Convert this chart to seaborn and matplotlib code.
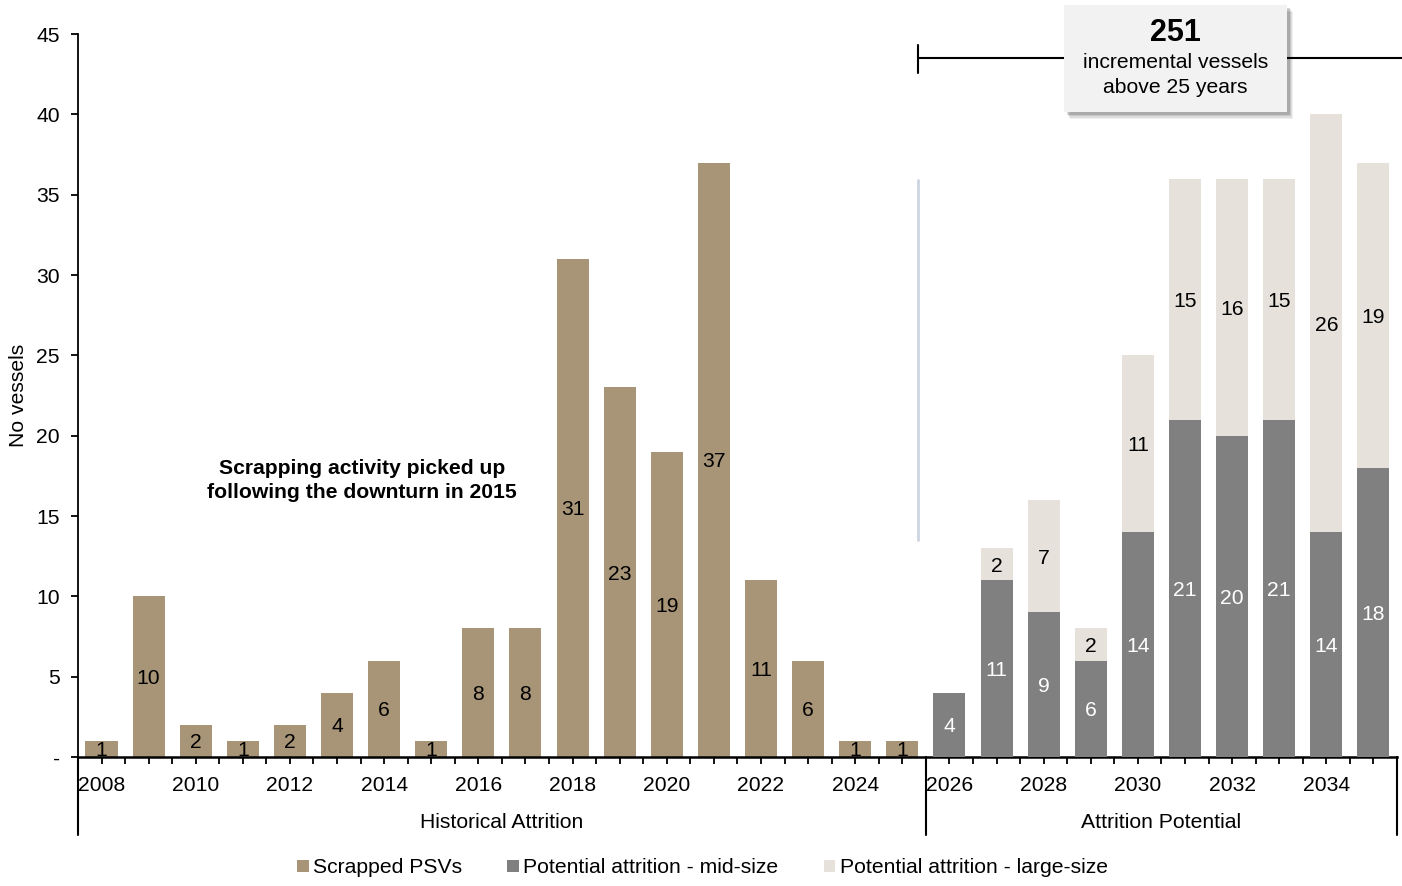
import numpy as np
import pandas as pd
import matplotlib
matplotlib.use("Agg")
import matplotlib.pyplot as plt
from matplotlib.patches import Rectangle, Patch
import matplotlib.transforms as mtransforms
import seaborn as sns

# ---- data ----
hist_years = list(range(2008, 2026))
scrapped = [1, 10, 2, 1, 2, 4, 6, 1, 8, 8, 31, 23, 19, 37, 11, 6, 1, 1]

future_years = list(range(2026, 2036))
mid_size = [4, 11, 9, 6, 14, 21, 20, 21, 14, 18]
large_size = [0, 2, 7, 2, 11, 15, 16, 15, 26, 19]

y_ticks = [0, 5, 10, 15, 20, 25, 30, 35, 40, 45]
y_tick_labels = ["-", "5", "10", "15", "20", "25", "30", "35", "40", "45"]

total_incremental = "251"

C_SCRAP = "#a89476"
C_MID = "#808080"
C_LARGE = "#e6e1da"

sns.set_style("ticks")
plt.rcParams["font.family"] = ["Liberation Sans", "DejaVu Sans"]
plt.rcParams.update({"text.color": "black", "axes.labelcolor": "black",
                     "xtick.color": "black", "ytick.color": "black"})

FS = 15.2

all_years = [str(y) for y in hist_years + future_years]
hist_df = pd.DataFrame({"year": [str(y) for y in hist_years], "value": scrapped})
fut_df = pd.DataFrame({
    "year": [str(y) for y in future_years],
    "mid": mid_size,
    "large": large_size,
})
fut_df["total"] = fut_df["mid"] + fut_df["large"]

fig = plt.figure(figsize=(14.02, 8.86), dpi=100)
ax = fig.add_axes([0.0556, 0.1456, 0.9408, 0.816])

W = 0.68
bar_kw = dict(order=all_years, width=W, saturation=1, ax=ax, linewidth=0,
              edgecolor="none")
sns.barplot(data=hist_df, x="year", y="value", color=C_SCRAP, zorder=2, **bar_kw)
# stacked: draw the totals in the large-size colour, then the mid-size part over it
sns.barplot(data=fut_df, x="year", y="total", color=C_LARGE, zorder=2, **bar_kw)
sns.barplot(data=fut_df, x="year", y="mid", color=C_MID, zorder=3, **bar_kw)

pos = {y: i for i, y in enumerate(all_years)}

lab_kw = dict(ha="center", va="center_baseline", fontsize=FS, zorder=5)
for y, v in zip(hist_df["year"], hist_df["value"]):
    ax.text(pos[y], v / 2, str(v), color="black", **lab_kw)
for y, m, l in zip(fut_df["year"], fut_df["mid"], fut_df["large"]):
    ax.text(pos[y], m / 2, str(m), color="white", **lab_kw)
    if l > 0:
        ax.text(pos[y], m + l / 2, str(l), color="black", **lab_kw)

# axes
ax.set_xlim(-0.5, len(all_years) - 0.5)
ax.set_ylim(0, 45)
ax.set_yticks(y_ticks)
ax.set_yticklabels(y_tick_labels, fontsize=FS)
ax.set_xticks(range(len(all_years)))
ax.set_xticklabels([y if int(y) % 2 == 0 else "" for y in all_years], fontsize=FS)
ax.set_xticks(np.arange(-0.5, len(all_years), 1.0), minor=True)
ax.tick_params(axis="x", which="both", direction="out", length=5, width=1.3,
               color="black", pad=9)
ax.tick_params(axis="y", direction="out", length=5, width=1.3, color="black", pad=8)
ax.set_xlabel("")
ax.set_ylabel("No vessels", fontsize=FS, labelpad=6)
for s in ["top", "right"]:
    ax.spines[s].set_visible(False)
ax.spines["left"].set_linewidth(1.3)
ax.spines["bottom"].set_linewidth(1.8)
ax.spines["left"].set_color("black")
ax.spines["bottom"].set_color("black")

# group separators below the axis
blend = mtransforms.blended_transform_factory(ax.transData, ax.transAxes)
split = len(hist_years) - 0.5
for xv in [-0.5, split, len(all_years) - 0.5]:
    ax.plot([xv, xv], [0, -0.108], transform=blend, color="black", lw=1.5,
            clip_on=False)
ax.text((-0.5 + split) / 2, -0.091, "Historical Attrition", transform=blend,
        ha="center", va="center", fontsize=FS)
ax.text((split + len(all_years) - 0.5) / 2, -0.091, "Attrition Potential",
        transform=blend, ha="center", va="center", fontsize=FS)

# light divider between history and outlook
ax.plot([17.33, 17.33], [13.5, 35.9], color="#cdd5e0", lw=2, zorder=1)

# bracket spanning the outlook period
ax.plot([17.33, 27.62], [43.5, 43.5], color="black", lw=1.5, clip_on=False, zorder=4)
ax.plot([17.33, 17.33], [42.6, 44.3], color="black", lw=1.5, clip_on=False, zorder=4)

# callout box with soft shadow
bx, by, bw, bh = 20.43, 40.14, 4.74, 6.66
for k, a in enumerate([0.06, 0.08, 0.10, 0.14]):
    off = 0.10 - k * 0.02
    ax.add_patch(Rectangle((bx + off + 0.02, by - off * 3.2 - 0.08), bw, bh,
                           facecolor="black", alpha=a, edgecolor="none",
                           clip_on=False, zorder=6))
ax.add_patch(Rectangle((bx, by), bw, bh, facecolor="#f2f2f2", edgecolor="none",
                       clip_on=False, zorder=7))
cx = bx + bw / 2
ax.text(cx, 45.05, total_incremental, ha="center", va="center", fontsize=22,
        fontweight="bold", zorder=8, clip_on=False)
ax.text(cx, 43.25, "incremental vessels", ha="center", va="center", fontsize=FS,
        zorder=8, clip_on=False)
ax.text(cx, 41.7, "above 25 years", ha="center", va="center", fontsize=FS,
        zorder=8, clip_on=False)

# annotation
ax.text(5.53, 17.2, "Scrapping activity picked up\nfollowing the downturn in 2015",
        ha="center", va="center", fontsize=FS, fontweight="bold",
        linespacing=1.35)

# legend
handles = [Patch(facecolor=C_SCRAP, edgecolor="none"),
           Patch(facecolor=C_MID, edgecolor="none"),
           Patch(facecolor=C_LARGE, edgecolor="none")]
labels = ["Scrapped PSVs", "Potential attrition - mid-size",
          "Potential attrition - large-size"]
fig.legend(handles, labels, loc="center", bbox_to_anchor=(0.501, 0.0205), ncol=3,
           frameon=False, fontsize=FS, handlelength=0.55, handleheight=0.55,
           handletextpad=0.2, columnspacing=2.15)

fig.savefig("out.png", dpi=100)
